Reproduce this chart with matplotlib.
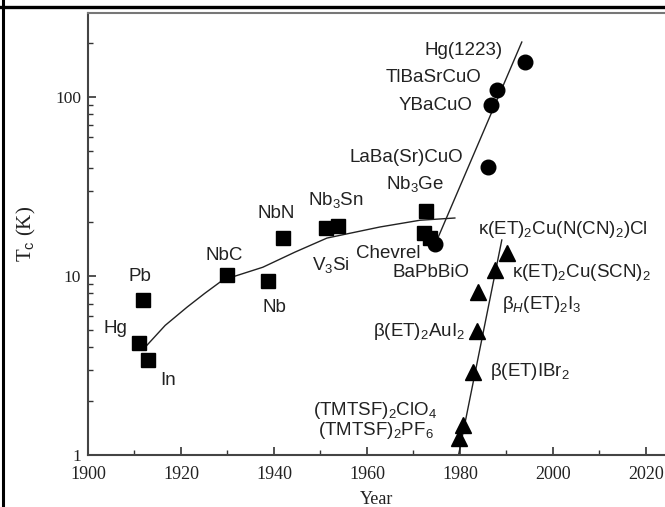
import matplotlib
matplotlib.use("Agg")
import matplotlib.pyplot as plt
from matplotlib.lines import Line2D
from matplotlib.ticker import FixedLocator, NullFormatter, LogLocator

plt.rcParams['mathtext.fontset'] = 'custom'
plt.rcParams['mathtext.rm'] = 'Liberation Sans'
plt.rcParams['mathtext.it'] = 'Liberation Sans:italic'

SANS = 'Liberation Sans'
SERIF = 'Liberation Serif'

# Conventional superconductors (squares)
sq_year = [1911.0, 1911.8, 1912.9, 1930.0, 1938.7, 1942.0, 1951.2, 1953.8, 1972.7, 1972.2, 1973.5]
sq_tc = [4.2, 7.35, 3.4, 10.1, 9.4, 16.3, 18.6, 19.0, 23.1, 17.4, 16.3]

# Oxides / cuprates (circles)
ci_year = [1974.6, 1986.0, 1986.7, 1988.0, 1994.0]
ci_tc = [15.1, 40.6, 90.2, 109.0, 157.0]

# Organic superconductors (triangles)
tr_year = [1979.8, 1980.6, 1982.8, 1983.7, 1983.9, 1987.5, 1990.1]
tr_tc = [1.24, 1.47, 2.9, 4.9, 8.1, 10.8, 13.4]

# Trend lines
bcs_year = [1912.7, 1916.6, 1921.3, 1925.1, 1929.0, 1937.6, 1944.5, 1951.4, 1962.8, 1971.4, 1978.9]
bcs_tc = [4.11, 5.3, 6.7, 8.0, 9.5, 11.2, 13.6, 16.3, 18.8, 20.5, 21.1]
cup_year = [1974.6, 1993.3]
cup_tc = [14.9, 203.0]
org_year = [1979.7, 1989.0]
org_tc = [1.0, 15.9]

x_ticks = [1900, 1920, 1940, 1960, 1980, 2000, 2020]
y_ticks = [1, 10, 100]
y_ticklabels = ['1', '10', '100']

# (text, year, Tc, horizontal alignment)
labels = [
    ('Hg(1223)', 1989.2, 183, 'right'),
    ('TlBaSrCuO', 1984.7, 129, 'right'),
    ('YBaCuO', 1982.6, 90.2, 'right'),
    ('LaBa(Sr)CuO', 1980.6, 46.2, 'right'),
    ('Nb$_3$Ge', 1970.3, 32.7, 'center'),
    ('Nb$_3$Sn', 1953.3, 26.6, 'center'),
    ('NbN', 1940.4, 22.5, 'center'),
    ('NbC', 1929.2, 13.1, 'center'),
    ('V$_3$Si', 1952.3, 11.5, 'center'),
    ('Nb', 1940.2, 6.71, 'center'),
    ('Chevrel', 1964.5, 13.4, 'center'),
    ('BaPbBiO', 1973.8, 10.5, 'center'),
    ('κ(ET)$_2$Cu(N(CN)$_2$)Cl', 1983.9, 18.1, 'left'),
    ('κ(ET)$_2$Cu(SCN)$_2$', 1991.2, 10.4, 'left'),
    ('β$_H$(ET)$_2$I$_3$', 1989.0, 6.89, 'left'),
    ('β(ET)$_2$AuI$_2$', 1981.1, 4.87, 'right'),
    ('β(ET)IBr$_2$', 1986.5, 2.91, 'left'),
    ('(TMTSF)$_2$ClO$_4$', 1948.4, 1.77, 'left'),
    ('(TMTSF)$_2$PF$_6$', 1949.5, 1.37, 'left'),
    ('Pb', 1911.2, 9.9, 'center'),
    ('Hg', 1905.8, 5.12, 'center'),
    ('In', 1917.2, 2.62, 'center'),
]

W, H = 665, 507
fig = plt.figure(figsize=(W / 100, H / 100), dpi=100)
ax = fig.add_axes([88 / W, (H - 455) / H, (W - 88) / W, (455 - 13) / H])

ax.set_yscale('log')
ax.set_xlim(1900, 2024.1)
ax.set_ylim(1, 295)

lw = 1.0
ax.plot(bcs_year, bcs_tc, color='#222222', lw=lw, zorder=2)
ax.plot(cup_year, cup_tc, color='#222222', lw=lw, zorder=2)
ax.plot(org_year, org_tc, color='#222222', lw=lw, zorder=2)

ax.plot(sq_year, sq_tc, 's', color='black', ms=10, ls='none', zorder=3)
ax.plot(ci_year, ci_tc, 'o', color='black', ms=10.5, ls='none', zorder=3)
ax.plot(tr_year, tr_tc, '^', color='black', ms=11, ls='none', zorder=3)

for txt, xx, yy, ha in labels:
    ax.text(xx, yy, txt, ha=ha, va='center', fontsize=13.5, family=SANS, color='#222222')

ax.xaxis.set_major_locator(FixedLocator(x_ticks))
ax.xaxis.set_minor_locator(FixedLocator([1910, 1930, 1950, 1970, 1990, 2010]))
ax.yaxis.set_major_locator(FixedLocator(y_ticks))
ax.yaxis.set_minor_locator(LogLocator(base=10, subs=range(2, 10)))
ax.yaxis.set_minor_formatter(NullFormatter())
ax.set_yticklabels(y_ticklabels)
ax.set_xticklabels([str(v) for v in x_ticks])

ax.tick_params(which='major', direction='in', length=6, width=1.2, color='#333333')
ax.tick_params(which='minor', direction='in', length=3.5, width=1.0, color='#333333')
ax.tick_params(axis='x', which='both', top=False, pad=8)
ax.tick_params(axis='y', which='both', right=False, pad=5)
for lab in ax.get_xticklabels():
    lab.set_family(SERIF)
    lab.set_fontsize(13)
    lab.set_color('#222222')
for lab in ax.get_yticklabels():
    lab.set_family(SERIF)
    lab.set_fontsize(12.5)
    lab.set_color('#222222')

ax.spines['right'].set_visible(False)
ax.spines['left'].set_color('#444444')
ax.spines['bottom'].set_color('#444444')
ax.spines['top'].set_color('#777777')
for s in ('left', 'bottom', 'top'):
    ax.spines[s].set_linewidth(1.5)

ax.set_xlabel('Year', family=SERIF, fontsize=13, color='#222222', labelpad=6)
ax.set_ylabel('T$_\\mathrm{c}$ (K)', family=SERIF, fontsize=15, color='#222222', labelpad=12)

# Outer frame lines
fig.add_artist(Line2D([0, 1], [1 - 7 / H, 1 - 7 / H], color='black', lw=2.4, transform=fig.transFigure))
fig.add_artist(Line2D([3 / W, 3 / W], [0, 1], color='black', lw=2.2, transform=fig.transFigure))

fig.savefig('out.png', dpi=100)
